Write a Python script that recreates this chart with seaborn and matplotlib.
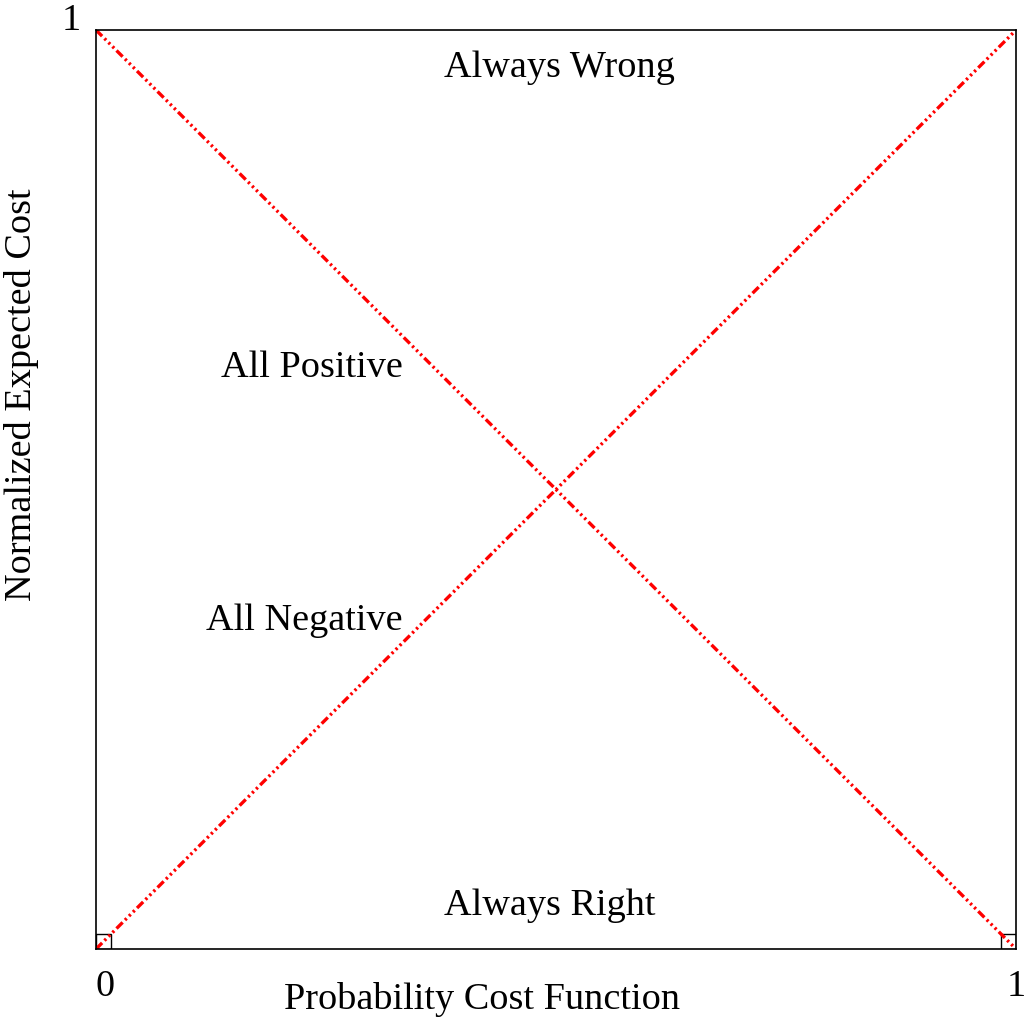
import matplotlib
matplotlib.use("Agg")
import matplotlib.pyplot as plt
import seaborn as sns
import pandas as pd
from matplotlib.patches import Rectangle

# 数据
pcf = [0, 1]
all_negative = [0, 1]
all_positive = [1, 0]
region_labels = ["Always Wrong", "All Positive", "All Negative", "Always Right"]
label_x = [0.504, 0.235, 0.226, 0.493]
label_y = [0.959, 0.632, 0.357, 0.047]

sns.set_style("white")
plt.rcParams['font.family'] = ['Liberation Serif', 'DejaVu Serif']
plt.rcParams['text.color'] = 'black'

df = pd.DataFrame({"pcf": pcf + pcf,
                   "cost": all_negative + all_positive,
                   "line": ["neg"] * 2 + ["pos"] * 2})

fig = plt.figure(figsize=(10.31, 10.21), dpi=100)
ax = fig.add_axes([0.0931, 0.0705, 0.8924, 0.9001])

dash = (0, (2.6, 1.0, 0.7, 1.0, 0.7, 1.0, 0.7, 1.0))
for name, sub in df.groupby("line"):
    sns.lineplot(data=sub, x="pcf", y="cost", ax=ax, color="red",
                 linewidth=2.4, linestyle=dash, legend=False)

ax.set_xlim(0, 1)
ax.set_ylim(0, 1)

# 角落小方块
w = 15 / 920
h = 15 / 919
ax.add_patch(Rectangle((0, 0), w, h, fill=False, edgecolor="black", lw=1))
ax.add_patch(Rectangle((1 - w, 0), w, h, fill=False, edgecolor="black", lw=1))

fs = 27.5
for t, x, y in zip(region_labels, label_x, label_y):
    ax.text(x, y, t, ha="center", va="center", fontsize=fs, color="black")

ax.set_xticks([])
ax.set_yticks([])
ax.set_xlabel("")
ax.set_ylabel("")
for s in ax.spines.values():
    s.set_color("black")
    s.set_linewidth(1.2)

# 刻度标签
ax.text(0, -0.022, "0", ha="left", va="top", fontsize=fs, transform=ax.transAxes)
ax.text(1.0105, -0.022, "1", ha="right", va="top", fontsize=fs, transform=ax.transAxes)
ax.text(-0.017, 0.991, "1", ha="right", va="bottom", fontsize=fs, transform=ax.transAxes)

ax.text(0.42, -0.055, "Probability Cost Function", ha="center", va="center",
        fontsize=fs, transform=ax.transAxes)
ax.text(-0.081, 0.603, "Normalized Expected Cost", ha="center", va="center",
        rotation=90, fontsize=fs, transform=ax.transAxes)

fig.savefig("out.png", dpi=100)
